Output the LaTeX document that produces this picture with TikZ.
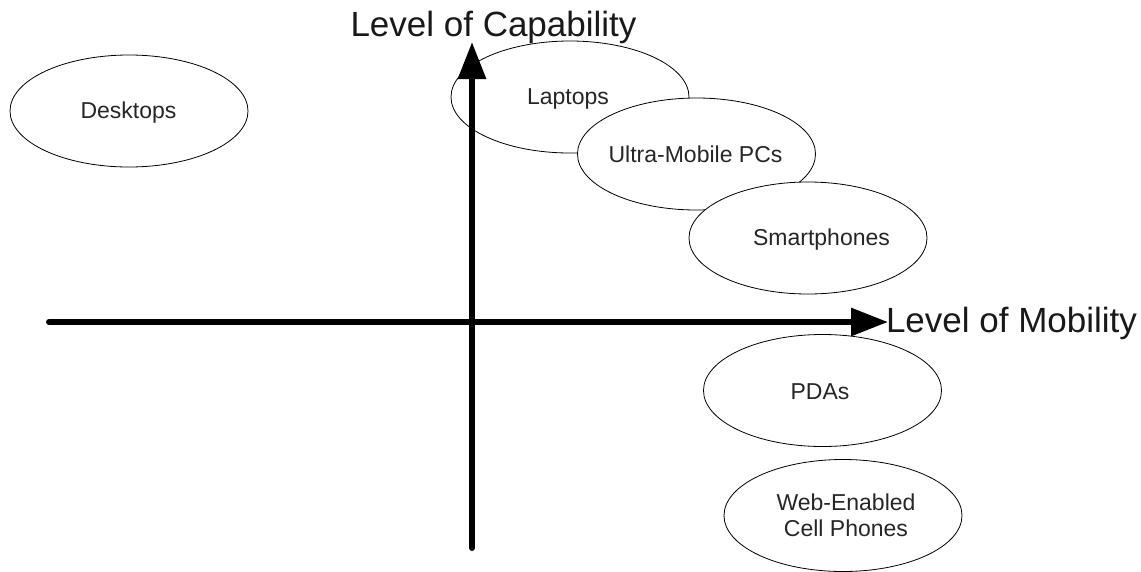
\documentclass[tikz,border=0pt]{standalone}
\usepackage{fontspec}
\setmainfont{Liberation Sans}
\usetikzlibrary{shapes.geometric,arrows.meta}
\begin{document}
\begin{tikzpicture}[x=1pt,y=-1pt,
  ell/.style={ellipse,draw=black,line width=0.8pt,fill=white,minimum width=238pt,minimum height=112pt,inner sep=0pt},
  lbl/.style={anchor=base,inner sep=0pt,font=\fontsize{23}{26}\selectfont,align=center,text=black!85},
  axislbl/.style={anchor=base,inner sep=0pt,font=\fontsize{35}{40}\selectfont,text=black!90},
  axis/.style={line width=6pt,line cap=round,-{Triangle[length=37pt,width=27pt]}}]
\useasboundingbox (0,0) rectangle (1141,571);
% ellipses
\node[ell] (desk) at (129,111) {};
\node[lbl] (deskt) at (128.5,118) {Desktops};
\node[ell] (lap) at (570,97) {};
\node[lbl] (lapt) at (568,104) {Laptops};
\node[ell] (umpc) at (696.5,154) {};
\node[lbl] (umpct) at (695.5,162) {Ultra-Mobile PCs};
\node[ell] (smart) at (808,238) {};
\node[lbl] (smartt) at (821.5,245) {Smartphones};
\node[ell] (pda) at (822.5,390.5) {};
\node[lbl] (pdat) at (820,399) {PDAs};
\node[ell] (web) at (843,515.5) {};
\node[lbl,anchor=center] (webt) at (846,515) {Web-Enabled\\Cell Phones};
% axes
\coordinate (vbot) at (472,548);
\coordinate (vtop) at (472,42);
\coordinate (hl) at (49,322);
\coordinate (hr) at (888,322);
\draw[axis] (vbot) -- (vtop);
\draw[axis] (hl) -- (hr);
\node[axislbl] (cap) at (493.5,36) {Level of Capability};
\node[axislbl] (mob) at (1011.5,332) {Level of Mobility};
\end{tikzpicture}
\end{document}
